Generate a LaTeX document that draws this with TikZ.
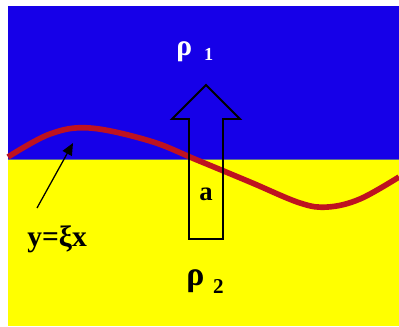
\documentclass[tikz,border=0pt]{standalone}
\usepackage{fontspec}
\setmainfont{Liberation Serif}
\usetikzlibrary{arrows.meta}
\definecolor{topblue}{RGB}{22,0,232}
\definecolor{lowyellow}{RGB}{255,255,0}
\definecolor{wavered}{RGB}{190,18,32}
\definecolor{edgegray}{RGB}{95,110,140}
\tikzset{
  rhotext/.style={
    inner sep = 0,
    anchor = base west,
    font = \bfseries
  },
  wave/.style={
    draw = wavered,
    line width = 4pt
  },
  bigarrow/.style={
    draw = black,
    line width = 1.4pt,
    line join = miter
  },
  pointer/.style={
    draw = black,
    line width = 0.9pt,
    -{Triangle[length=0.3cm,width=0.26cm]}
  }
}

\begin{document}
\begin{tikzpicture}[x=0.025cm,y=-0.025cm]
    \useasboundingbox (0,0) rectangle (399,327);
    % two layers
    \fill[topblue] (8,6) rectangle (399,159);
    \fill[lowyellow] (8,159) rectangle (399,326);
    \draw[edgegray, line width=0.6pt] (8,159) -- (399,159);
    % perturbed interface
    \draw[wave] plot[smooth, tension=0.6] coordinates {(8,157) (50,134) (90,128) (150,141) (197,160) (250,182) (300,203) (328,207) (360,199) (399,177)};
    % block arrow
    \coordinate (tip) at (206,85);
    \coordinate (lwing) at (172,119);
    \coordinate (rwing) at (240,119);
    \draw[bigarrow] (189,239) -- (189,119) -- (lwing) -- (tip) -- (rwing) -- (223,119) -- (223,239) -- cycle;
    \node[rhotext, anchor=base, font=\bfseries\fontsize{19}{19}\selectfont] (avar) at (206,200) {a};
    % densities
    \node[rhotext, text=white] (rhoone) at (176,56) {\fontsize{21}{21}\selectfont ρ\hspace{0.3cm}\raisebox{-0.12cm}{\fontsize{13}{13}\selectfont 1}};
    \node[rhotext] (rhotwo) at (186,285) {\fontsize{24}{24}\selectfont ρ\hspace{0.22cm}\raisebox{-0.2cm}{\fontsize{15}{15}\selectfont 2}};
    % curve label
    \node[rhotext, font=\bfseries\fontsize{21}{21}\selectfont] (curvelabel) at (27,246) {y=ξx};
    \coordinate (ptrfoot) at (37,208);
    \coordinate (ptrtip) at (73,143);
    \draw[pointer] (ptrfoot) -- (ptrtip);
\end{tikzpicture}
\end{document}
